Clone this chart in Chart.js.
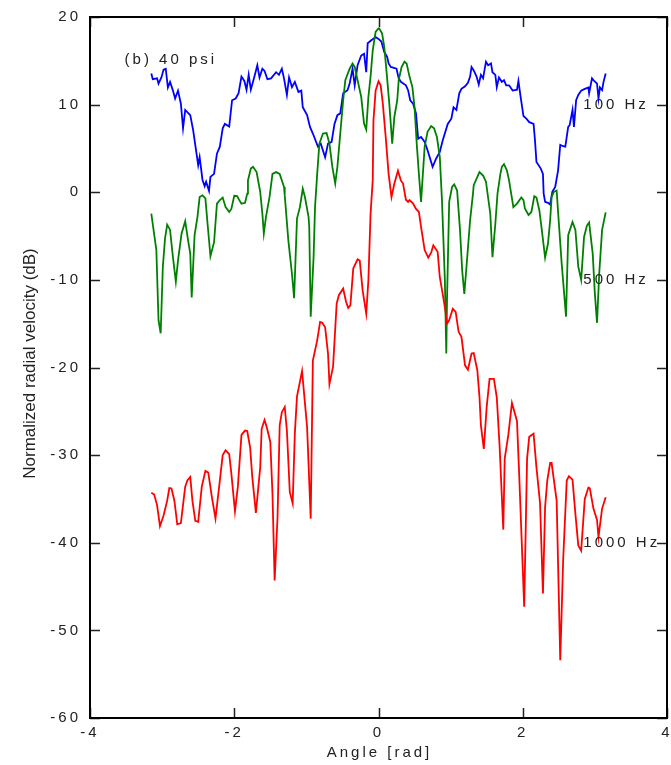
<!DOCTYPE html>
<html>
<head>
<meta charset="utf-8">
<script src="https://cdn.jsdelivr.net/npm/chart.js@4"></script>
<style>
  html, body { margin: 0; padding: 0; background: #fff; }
  #chart { display: block; }
</style>
</head>
<body>
<canvas id="chart" width="671" height="765"></canvas>
<script>
// 100 Hz (blue)
const angles100 = [-3.15,-3.13,-3.07,-3.05,-3.01,-2.98,-2.95,-2.92,-2.89,-2.85,-2.82,-2.78,-2.74,-2.71,-2.68,-2.61,-2.57,-2.53,-2.50,-2.48,
  -2.44,-2.41,-2.39,-2.35,-2.33,-2.28,-2.24,-2.20,-2.16,-2.13,-2.07,-2.03,-1.98,-1.94,-1.90,-1.86,-1.83,-1.80,-1.77,-1.72,
  -1.68,-1.65,-1.61,-1.58,-1.54,-1.49,-1.42,-1.38,-1.34,-1.31,-1.27,-1.24,-1.20,-1.16,-1.11,-1.07,-1.05,-0.99,-0.95,-0.91,
  -0.84,-0.80,-0.74,-0.70,-0.65,-0.61,-0.57,-0.53,-0.49,-0.43,-0.40,-0.36,-0.33,-0.29,-0.24,-0.20,-0.17,-0.15,-0.10,-0.04,
  0.00,0.04,0.08,0.12,0.14,0.17,0.25,0.28,0.31,0.38,0.41,0.44,0.48,0.52,0.55,0.59,0.64,0.68,0.73,0.75,
  0.80,0.85,0.89,0.96,1.01,1.04,1.08,1.12,1.15,1.20,1.24,1.27,1.29,1.32,1.36,1.39,1.42,1.45,1.49,1.52,
  1.56,1.58,1.62,1.64,1.67,1.71,1.74,1.77,1.81,1.86,1.92,1.94,1.97,2.01,2.05,2.09,2.15,2.17,2.19,2.25,
  2.28,2.29,2.31,2.35,2.38,2.41,2.45,2.49,2.52,2.56,2.59,2.63,2.65,2.69,2.71,2.74,2.77,2.81,2.86,2.91,
  2.92,2.96,2.98,3.03,3.05,3.07,3.10,3.12,3.15];
const db100 = [13.55,12.9,13.0,12.4,13.1,14.0,14.1,11.95,12.6,11.6,10.7,11.6,10.1,7.3,9.4,8.8,7.1,4.8,3.1,4.0,
  1.4,0.7,1.2,0.15,1.75,2.1,4.4,5.2,7.3,7.8,7.5,10.5,10.7,11.3,13.2,12.7,11.7,13.4,11.7,13.2,
  14.5,13.1,14.1,13.85,12.9,13.0,13.7,13.4,14.1,13.0,11.1,13.1,12.0,12.6,11.45,11.6,9.7,8.8,7.45,6.7,
  5.2,5.55,4.0,5.55,5.75,7.8,8.8,9.0,11.3,11.65,12.4,14.1,12.2,14.5,15.6,15.8,13.7,17.0,17.35,17.7,
  17.5,17.2,16.0,15.45,14.7,14.3,14.1,13.0,12.6,12.2,11.65,10.5,10.1,9.0,6.1,6.3,5.75,4.8,3.45,2.9,
  3.85,4.6,5.9,7.8,8.4,9.7,9.4,11.3,11.8,12.1,12.5,13.2,14.3,13.9,13.2,12.3,13.4,13.0,14.9,14.5,
  14.7,13.7,13.4,12.0,13.1,12.6,12.8,12.2,12.2,11.6,11.7,12.7,10.9,8.7,8.4,8.0,7.8,5.9,3.45,2.7,
  2.1,-0.15,-1.1,-1.2,-1.4,0.05,0.6,2.5,5.4,5.25,5.2,7.45,7.65,9.4,7.45,10.5,11.1,11.6,11.8,11.95,
  11.3,13.0,12.8,12.4,10.7,11.95,11.65,12.6,13.55];

// 500 Hz (green)
const angles500 = [-3.15,-3.08,-3.05,-3.02,-2.99,-2.96,-2.93,-2.89,-2.85,-2.81,-2.78,-2.73,-2.68,-2.64,-2.61,-2.59,-2.55,-2.51,-2.48,-2.44,
  -2.40,-2.37,-2.33,-2.28,-2.24,-2.20,-2.16,-2.12,-2.07,-2.04,-2.00,-1.96,-1.93,-1.90,-1.85,-1.82,-1.81,-1.77,-1.74,-1.69,
  -1.64,-1.61,-1.59,-1.56,-1.51,-1.47,-1.42,-1.37,-1.31,-1.30,-1.25,-1.20,-1.17,-1.13,-1.09,-1.05,-1.02,-0.97,-0.96,-0.94,
  -0.90,-0.88,-0.85,-0.82,-0.77,-0.72,-0.68,-0.64,-0.60,-0.57,-0.53,-0.49,-0.46,-0.40,-0.36,-0.33,-0.29,-0.24,-0.20,-0.17,
  -0.14,-0.11,-0.08,-0.04,0.00,0.01,0.05,0.08,0.11,0.15,0.19,0.22,0.26,0.28,0.32,0.36,0.39,0.43,0.47,0.50,
  0.53,0.56,0.59,0.64,0.68,0.73,0.77,0.81,0.85,0.88,0.92,0.94,0.95,0.98,1.02,1.05,1.09,1.13,1.16,1.19,
  1.22,1.27,1.31,1.32,1.36,1.40,1.45,1.49,1.55,1.58,1.62,1.65,1.69,1.71,1.74,1.78,1.81,1.87,1.92,1.98,
  2.01,2.03,2.08,2.12,2.16,2.19,2.23,2.26,2.31,2.35,2.38,2.40,2.43,2.47,2.49,2.54,2.60,2.63,2.69,2.73,
  2.77,2.81,2.85,2.89,2.92,2.97,3.00,3.03,3.06,3.10,3.15];
const db500 = [-2.45,-6.6,-14.6,-16.1,-8.5,-5.3,-3.7,-4.3,-7.4,-10.2,-7.8,-4.7,-3.3,-5.5,-7.0,-12.0,-4.9,-2.8,-0.55,-0.35,
  -0.7,-3.6,-7.3,-5.7,-1.3,-0.9,-0.6,-1.7,-2.25,-1.9,-0.4,-0.45,-0.9,-1.3,-1.2,-0.15,1.35,2.7,2.9,2.3,
  0.05,-2.45,-4.7,-2.8,-0.5,2.1,2.3,2.1,0.6,-0.35,-5.5,-9.3,-12.1,-3.0,-1.7,0.4,-0.55,-2.8,-4.0,-14.2,
  -7.4,-1.7,2.1,5.55,6.7,6.75,5.55,2.9,1.0,2.9,6.7,10.5,12.8,14.1,14.7,14.3,12.8,10.9,7.8,7.15,
  10.9,13.2,16.2,18.3,18.7,18.7,18.1,16.6,13.9,10.1,5.55,8.6,10.5,12.8,14.3,14.9,14.7,13.2,12.0,9.7,
  5.55,2.1,-1.1,5.2,6.9,7.55,7.3,6.3,4.0,-0.9,-10.0,-18.4,-12.3,-1.1,0.6,0.9,0.2,-4.3,-8.9,-11.6,
  -8.5,-3.2,-0.15,0.8,1.55,2.3,1.9,1.2,-2.45,-7.4,-3.6,-0.15,2.1,2.9,3.2,2.5,1.35,-1.7,-1.3,-0.6,
  -0.9,-1.85,-2.6,-2.25,-0.45,-0.6,-2.05,-4.0,-7.45,-5.85,-3.2,-0.55,0.05,0.2,-2.25,-8.15,-14.2,-4.9,-3.4,-4.3,
  -8.5,-10.0,-5.1,-3.8,-3.45,-7.0,-11.6,-14.9,-9.3,-4.3,-2.3];

// 1000 Hz (red)
const angles1000 = [-3.15,-3.11,-3.07,-3.03,-2.98,-2.93,-2.90,-2.87,-2.83,-2.79,-2.74,-2.68,-2.65,-2.61,-2.58,-2.54,-2.50,-2.45,-2.40,-2.36,
  -2.31,-2.26,-2.20,-2.16,-2.12,-2.07,-2.04,-1.99,-1.95,-1.90,-1.85,-1.82,-1.78,-1.75,-1.70,-1.64,-1.62,-1.58,-1.55,-1.50,
  -1.47,-1.44,-1.40,-1.37,-1.34,-1.30,-1.27,-1.23,-1.19,-1.16,-1.13,-1.06,-0.99,-0.94,-0.91,-0.85,-0.81,-0.78,-0.74,-0.70,
  -0.68,-0.63,-0.58,-0.55,-0.49,-0.45,-0.42,-0.39,-0.35,-0.29,-0.26,-0.22,-0.17,-0.14,-0.11,-0.08,-0.07,-0.04,0.00,0.03,
  0.06,0.10,0.14,0.18,0.22,0.27,0.31,0.34,0.38,0.41,0.43,0.48,0.52,0.56,0.59,0.64,0.69,0.73,0.76,0.82,
  0.85,0.89,0.93,0.95,0.98,1.03,1.07,1.11,1.15,1.20,1.24,1.29,1.32,1.37,1.40,1.42,1.46,1.50,1.54,1.60,
  1.64,1.68,1.73,1.75,1.80,1.85,1.92,1.95,2.02,2.06,2.09,2.15,2.19,2.24,2.28,2.31,2.34,2.38,2.40,2.47,
  2.52,2.56,2.61,2.64,2.69,2.73,2.77,2.81,2.86,2.91,2.93,2.98,3.03,3.05,3.10,3.15];
const db1000 = [-34.3,-34.5,-35.7,-38.1,-36.9,-35.2,-33.75,-33.8,-35.2,-37.9,-37.75,-33.6,-32.9,-32.5,-35.2,-37.5,-37.6,-33.6,-31.8,-32.0,
  -34.8,-37.25,-32.9,-30.0,-29.45,-29.9,-32.1,-36.4,-33.6,-27.7,-27.2,-27.25,-29.1,-32.5,-36.6,-31.4,-27.0,-26.0,-26.8,-28.5,
  -34.4,-44.3,-37.1,-26.6,-25.1,-24.5,-27.2,-34.2,-35.5,-27.55,-23.3,-20.4,-26.8,-37.25,-19.2,-16.9,-14.8,-14.9,-15.4,-18.4,
  -21.9,-19.9,-12.7,-11.75,-11.0,-12.5,-13.2,-12.9,-8.7,-7.65,-7.8,-11.2,-13.85,-10.0,-2.45,1.35,8.2,11.6,12.65,12.2,
  10.1,6.3,2.1,-0.55,1.0,2.45,1.35,1.0,-0.85,-1.1,-0.9,-1.3,-1.9,-2.25,-3.95,-6.6,-7.45,-6.9,-6.05,-6.8,
  -9.7,-11.6,-13.65,-15.0,-14.6,-13.3,-13.65,-15.9,-16.5,-19.75,-20.25,-18.4,-18.35,-20.3,-23.35,-26.6,-29.3,-24.5,-21.3,-21.3,
  -23.4,-29.1,-38.5,-30.4,-27.7,-24.05,-26.1,-32.1,-47.3,-30.4,-27.9,-27.55,-31.4,-35.5,-45.8,-35.9,-32.9,-30.9,-30.9,-35.2,
  -53.4,-42.0,-32.9,-32.4,-32.8,-36.7,-40.3,-40.9,-35.0,-33.7,-33.8,-36.1,-37.4,-39.35,-36.1,-34.8];

const seriesNames = ['100 Hz', '500 Hz', '1000 Hz'];
const seriesColors = ['#0000ff', '#008000', '#ff0000'];
const xTicks = [-4, -2, 0, 2, 4];
const yTicks = [20, 10, 0, -10, -20, -30, -40, -50, -60];

const FONT = '"Liberation Sans", Arial, Helvetica, sans-serif';

function toPoints(xs, ys) {
  return xs.map((x, i) => ({ x: x, y: ys[i] }));
}

// frame, inward ticks and text labels
const decorations = {
  id: 'decorations',
  beforeDraw(chart) {
    chart.ctx.letterSpacing = '3px';
  },
  afterDraw(chart) {
    const ctx = chart.ctx;
    const a = chart.chartArea;
    const x = chart.scales.x;
    const y = chart.scales.y;
    ctx.save();
    ctx.strokeStyle = '#222';
    ctx.lineWidth = 1.5;
    ctx.beginPath();
    xTicks.forEach(v => {
      const px = Math.round(x.getPixelForValue(v)) + 0.5;
      ctx.moveTo(px, a.bottom); ctx.lineTo(px, a.bottom - 10);
      ctx.moveTo(px, a.top); ctx.lineTo(px, a.top + 10);
    });
    yTicks.forEach(v => {
      const py = Math.round(y.getPixelForValue(v)) + 0.5;
      ctx.moveTo(a.left, py); ctx.lineTo(a.left + 10, py);
      ctx.moveTo(a.right, py); ctx.lineTo(a.right - 10, py);
    });
    ctx.stroke();
    ctx.strokeStyle = '#000';
    ctx.lineWidth = 2;
    ctx.strokeRect(a.left, a.top, a.right - a.left, a.bottom - a.top);

    ctx.fillStyle = '#222';
    ctx.font = '15px ' + FONT;
    ctx.letterSpacing = '3px';
    ctx.textBaseline = 'middle';
    ctx.textAlign = 'left';
    ctx.fillText('(b) 40 psi', x.getPixelForValue(-3.52), y.getPixelForValue(15.1));
    ctx.fillText(seriesNames[0], x.getPixelForValue(2.84), y.getPixelForValue(10));
    ctx.fillText(seriesNames[1], x.getPixelForValue(2.84), y.getPixelForValue(-10));
    ctx.fillText(seriesNames[2], x.getPixelForValue(2.84), y.getPixelForValue(-40));

    // axis titles
    ctx.textAlign = 'center';
    ctx.textBaseline = 'alphabetic';
    ctx.fillText('Angle [rad]', (a.left + a.right) / 2 + 1, 757);

    ctx.letterSpacing = '0px';
    ctx.font = '17px ' + FONT;
    ctx.translate(35, (a.top + a.bottom) / 2 - 4);
    ctx.rotate(-Math.PI / 2);
    ctx.fillText('Normalized radial velocity (dB)', 0, 0);
    ctx.restore();
  }
};

const ctx = document.getElementById('chart').getContext('2d');
new Chart(ctx, {
  type: 'line',
  data: {
    datasets: [
      { label: seriesNames[0], data: toPoints(angles100, db100), borderColor: seriesColors[0], order: 2 },
      { label: seriesNames[1], data: toPoints(angles500, db500), borderColor: seriesColors[1], order: 1 },
      { label: seriesNames[2], data: toPoints(angles1000, db1000), borderColor: seriesColors[2], order: 0 }
    ]
  },
  options: {
    responsive: false,
    animation: false,
    layout: { padding: { top: 17, right: 4, left: 0, bottom: 0 } },
    elements: {
      point: { radius: 0 },
      line: { borderWidth: 1.8, tension: 0, fill: false }
    },
    plugins: {
      legend: { display: false },
      tooltip: { enabled: false }
    },
    scales: {
      x: {
        type: 'linear',
        min: -4,
        max: 4,
        afterBuildTicks: s => { s.ticks = xTicks.map(v => ({ value: v })); },
        afterFit: s => { s.height = 47; s.paddingLeft = 0; s.paddingRight = 0; },
        grid: { display: false, drawTicks: false },
        border: { display: false },
        ticks: { color: '#222', padding: 6, maxRotation: 0, font: { family: FONT, size: 15 } }
      },
      y: {
        type: 'linear',
        min: -60,
        max: 20,
        afterBuildTicks: s => { s.ticks = yTicks.map(v => ({ value: v })); },
        afterFit: s => { s.width = 90; s.paddingTop = 0; s.paddingBottom = 0; },
        grid: { display: false, drawTicks: false },
        border: { display: false },
        ticks: { color: '#222', padding: 9, font: { family: FONT, size: 15 } }
      }
    }
  },
  plugins: [decorations]
});
</script>
</body>
</html>
